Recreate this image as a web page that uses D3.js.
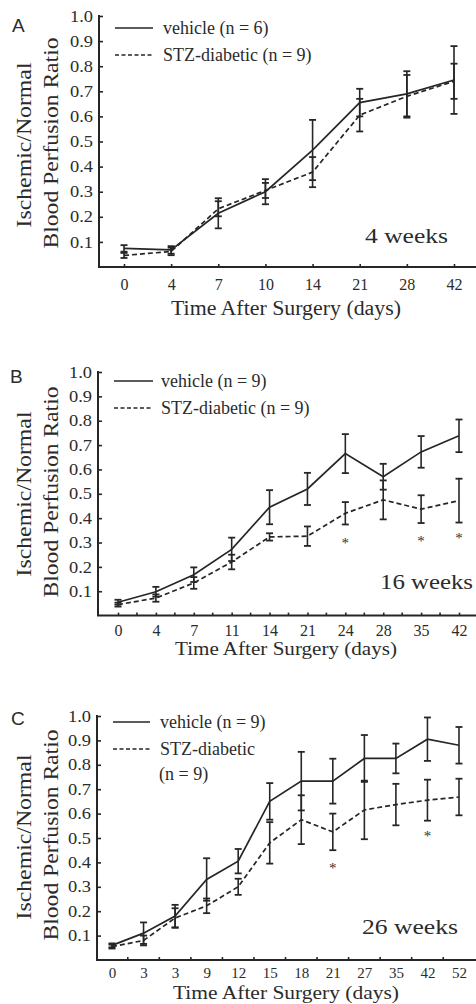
<!DOCTYPE html>
<html>
<head>
<meta charset="utf-8">
<script src="https://cdn.jsdelivr.net/npm/d3@7"></script>
<style>
  body { margin: 0; background: #fff; }
  svg { display: block; }
  svg text { font-family: "Liberation Serif", "DejaVu Serif", serif; fill: #2b2b2b; }
  svg text.letter { font-family: "Liberation Sans", "DejaVu Sans", sans-serif; }
</style>
</head>
<body>
<svg width="476" height="1004"></svg>
<script>
const w = 476;
const h = 1004;
const serif = "Liberation Serif, DejaVu Serif, serif";

// Data
const daysA = ["0", "4", "7", "10", "14", "21", "28", "42"];
const vehicleA = [0.074, 0.068, 0.214, 0.30, 0.466, 0.655, 0.69, 0.745];
const vehicleErrA = [0.013, 0.015, 0.06, 0.05, 0.12, 0.055, 0.09, 0.135];
const stzA = [0.046, 0.062, 0.232, 0.305, 0.378, 0.605, 0.68, 0.74];
const stzErrA = [0.01, 0.015, 0.03, 0.03, 0.06, 0.065, 0.085, 0.07];
const starsA = [];

const daysB = ["0", "4", "7", "11", "14", "21", "24", "28", "35", "42"];
const vehicleB = [0.055, 0.098, 0.168, 0.272, 0.445, 0.52, 0.665, 0.57, 0.672, 0.738];
const vehicleErrB = [0.01, 0.02, 0.03, 0.048, 0.07, 0.066, 0.08, 0.053, 0.065, 0.067];
const stzB = [0.045, 0.072, 0.134, 0.22, 0.323, 0.326, 0.42, 0.475, 0.437, 0.472];
const stzErrB = [0.008, 0.015, 0.024, 0.03, 0.015, 0.04, 0.046, 0.08, 0.057, 0.09];
const starsB = [[6, 0.31], [8, 0.32], [9, 0.33]];

const daysC = ["0", "3", "3", "9", "12", "15", "18", "21", "27", "35", "42", "52"];
const vehicleC = [0.06, 0.11, 0.18, 0.33, 0.405, 0.65, 0.733, 0.733, 0.826, 0.826, 0.905, 0.88];
const vehicleErrC = [0.008, 0.044, 0.046, 0.087, 0.05, 0.075, 0.12, 0.092, 0.096, 0.061, 0.089, 0.075];
const stzC = [0.055, 0.08, 0.172, 0.222, 0.3, 0.48, 0.575, 0.525, 0.615, 0.637, 0.655, 0.668];
const stzErrC = [0.008, 0.02, 0.04, 0.03, 0.033, 0.085, 0.1, 0.075, 0.12, 0.085, 0.084, 0.075];
const starsC = [[7, 0.39], [10, 0.52]];

const yTicks = [0.1, 0.2, 0.3, 0.4, 0.5, 0.6, 0.7, 0.8, 0.9, 1.0];

const panels = [
  {
    letter: "A", letterX: 12, letterY: 32,
    days: daysA, vehicle: vehicleA, vehicleErr: vehicleErrA, stz: stzA, stzErr: stzErrA, stars: starsA,
    axisX: 99, y0: 267, y1: 16, xFirst: 124, xLast: 454,
    catTicks: true, midTicks: false, labelPad: 11.6, tickFont: 16,
    vehicleLabel: ["vehicle (n = 6)"], stzLabel: ["STZ-diabetic (n = 9)"],
    legX1: 115, legX2: 153, legY: 28, legGap: 27, legTextX: 163,
    weeks: "4 weeks", weeksX: 365, weeksY: 243, weeksLen: 83,
    titleY: 315, titleLen: 230, titleFont: 20,
    yTitleY: 143
  },
  {
    letter: "B", letterX: 10, letterY: 383,
    days: daysB, vehicle: vehicleB, vehicleErr: vehicleErrB, stz: stzB, stzErr: stzErrB, stars: starsB,
    axisX: 98, y0: 615.6, y1: 372, xFirst: 118, xLast: 459,
    catTicks: true, midTicks: true, labelPad: 9, tickFont: 16,
    vehicleLabel: ["vehicle (n = 9)"], stzLabel: ["STZ-diabetic (n = 9)"],
    legX1: 114, legX2: 153, legY: 381, legGap: 27, legTextX: 161,
    weeks: "16 weeks", weeksX: 380, weeksY: 589, weeksLen: 93,
    titleY: 655, titleLen: 222, titleFont: 19,
    yTitleY: 492
  },
  {
    letter: "C", letterX: 11, letterY: 725,
    days: daysC, vehicle: vehicleC, vehicleErr: vehicleErrC, stz: stzC, stzErr: stzErrC, stars: starsC,
    axisX: 97, y0: 960, y1: 716, xFirst: 112, xLast: 459,
    catTicks: false, midTicks: true, labelPad: 7, tickFont: 15,
    vehicleLabel: ["vehicle (n = 9)"], stzLabel: ["STZ-diabetic", "(n = 9)"],
    legX1: 113, legX2: 150, legY: 722, legGap: 27, legTextX: 160,
    weeks: "26 weeks", weeksX: 362, weeksY: 934, weeksLen: 96,
    titleY: 999, titleLen: 226, titleFont: 18,
    yTitleY: 835
  }
];

const svg = d3.select("svg")
    .attr("width", w)
    .attr("height", h);

const ink = "#262626";

function drawPanel(p) {
  const g = svg.append("g");
  const idx = d3.range(p.days.length);

  const x = d3.scalePoint().domain(idx).range([p.xFirst, p.xLast]);
  const y = d3.scaleLinear().domain([0, 1]).range([p.y0, p.y1]);

  // y axis
  const yAxis = d3.axisLeft(y)
      .tickValues(yTicks)
      .tickFormat(d3.format(".1f"))
      .tickSizeInner(-4)
      .tickSizeOuter(0)
      .tickPadding(6);
  const ya = g.append("g")
      .attr("transform", `translate(${p.axisX},0)`)
      .call(yAxis)
      .attr("font-family", serif);
  ya.select(".domain").remove();
  ya.selectAll(".tick line").attr("stroke", ink).attr("stroke-width", 1.6);
  ya.selectAll(".tick text")
      .attr("font-size", 16)
      .attr("fill", "#333")
      .attr("textLength", 23)
      .attr("lengthAdjust", "spacingAndGlyphs");

  g.append("line")
      .attr("x1", p.axisX).attr("x2", p.axisX)
      .attr("y1", y(1) - 1).attr("y2", p.y0)
      .attr("stroke", ink).attr("stroke-width", 2);

  // x axis
  const xAxis = d3.axisBottom(x)
      .tickFormat(i => p.days[i])
      .tickSizeInner(p.catTicks ? -3 : 0)
      .tickSizeOuter(0)
      .tickPadding(p.labelPad);
  const xa = g.append("g")
      .attr("transform", `translate(0,${p.y0})`)
      .call(xAxis)
      .attr("font-family", serif);
  xa.select(".domain").remove();
  xa.selectAll(".tick line").attr("stroke", ink).attr("stroke-width", 1.6);
  xa.selectAll(".tick text")
      .attr("font-size", p.tickFont)
      .attr("fill", "#333");

  if (p.midTicks) {
    g.selectAll(".mid")
        .data(idx.slice(0, -1))
        .enter()
        .append("line")
        .attr("x1", i => (x(i) + x(i + 1)) / 2)
        .attr("x2", i => (x(i) + x(i + 1)) / 2)
        .attr("y1", p.y0)
        .attr("y2", p.y0 - 3)
        .attr("stroke", ink)
        .attr("stroke-width", 1.6);
  }

  g.append("line")
      .attr("x1", p.axisX - 1).attr("x2", w)
      .attr("y1", p.y0).attr("y2", p.y0)
      .attr("stroke", ink).attr("stroke-width", 2);

  // series
  const series = [
    { vals: p.vehicle, errs: p.vehicleErr, dash: null },
    { vals: p.stz, errs: p.stzErr, dash: "5,3" }
  ];

  const line = d3.line()
      .x((d, i) => x(i))
      .y(d => y(d));

  series.forEach(s => {
    g.append("path")
        .attr("d", line(s.vals))
        .attr("fill", "none")
        .attr("stroke", ink)
        .attr("stroke-width", 1.7)
        .attr("stroke-dasharray", s.dash);

    const eb = g.selectAll(null)
        .data(idx)
        .enter()
        .append("g");
    eb.append("line")
        .attr("x1", i => x(i)).attr("x2", i => x(i))
        .attr("y1", i => y(s.vals[i] - s.errs[i]))
        .attr("y2", i => y(s.vals[i] + s.errs[i]))
        .attr("stroke", ink).attr("stroke-width", 1.6);
    eb.append("line")
        .attr("x1", i => x(i) - 3.5).attr("x2", i => x(i) + 3.5)
        .attr("y1", i => y(s.vals[i] + s.errs[i]))
        .attr("y2", i => y(s.vals[i] + s.errs[i]))
        .attr("stroke", ink).attr("stroke-width", 1.8);
    eb.append("line")
        .attr("x1", i => x(i) - 3.5).attr("x2", i => x(i) + 3.5)
        .attr("y1", i => y(s.vals[i] - s.errs[i]))
        .attr("y2", i => y(s.vals[i] - s.errs[i]))
        .attr("stroke", ink).attr("stroke-width", 1.8);
  });

  // significance marks
  g.selectAll(".star")
      .data(p.stars)
      .enter()
      .append("text")
      .attr("x", d => x(d[0]))
      .attr("y", d => y(d[1]))
      .attr("dy", "0.55em")
      .attr("text-anchor", "middle")
      .attr("font-size", 15)
      .style("fill", "#333")
      .text("*");

  // legend
  g.append("line")
      .attr("x1", p.legX1).attr("x2", p.legX2)
      .attr("y1", p.legY).attr("y2", p.legY)
      .attr("stroke", ink).attr("stroke-width", 1.7);
  g.append("line")
      .attr("x1", p.legX1).attr("x2", p.legX2)
      .attr("y1", p.legY + p.legGap).attr("y2", p.legY + p.legGap)
      .attr("stroke", ink).attr("stroke-width", 1.7)
      .attr("stroke-dasharray", "4,2.5");

  const legLines = [p.vehicleLabel[0]].concat(p.stzLabel);
  g.selectAll(".leg")
      .data(legLines)
      .enter()
      .append("text")
      .attr("x", (d, i) => i === 2 ? p.legTextX - 1 : p.legTextX)
      .attr("y", (d, i) => p.legY + 6 + i * p.legGap - (i === 2 ? 2 : 0))
      .attr("font-size", 18)
      .text(d => d);

  // weeks label
  g.append("text")
      .attr("x", p.weeksX)
      .attr("y", p.weeksY)
      .attr("font-size", 21)
      .attr("textLength", p.weeksLen)
      .attr("lengthAdjust", "spacingAndGlyphs")
      .text(p.weeks);

  // axis titles
  g.append("text")
      .attr("x", 286)
      .attr("y", p.titleY)
      .attr("text-anchor", "middle")
      .attr("font-size", p.titleFont)
      .attr("textLength", p.titleLen)
      .attr("lengthAdjust", "spacingAndGlyphs")
      .text("Time After Surgery (days)");

  g.append("text")
      .attr("transform", `translate(31,${p.yTitleY + 2}) rotate(-90)`)
      .attr("text-anchor", "middle")
      .attr("font-size", 20)
      .attr("textLength", 165)
      .attr("lengthAdjust", "spacingAndGlyphs")
      .text("Ischemic/Normal");
  g.append("text")
      .attr("transform", `translate(58,${p.yTitleY}) rotate(-90)`)
      .attr("text-anchor", "middle")
      .attr("font-size", 20)
      .attr("textLength", 211)
      .attr("lengthAdjust", "spacingAndGlyphs")
      .text("Blood Perfusion Ratio");

  // panel letter
  g.append("text")
      .attr("class", "letter")
      .attr("x", p.letterX)
      .attr("y", p.letterY)
      .attr("font-size", 19)
      .text(p.letter);
}

panels.forEach(drawPanel);
</script>
</body>
</html>
